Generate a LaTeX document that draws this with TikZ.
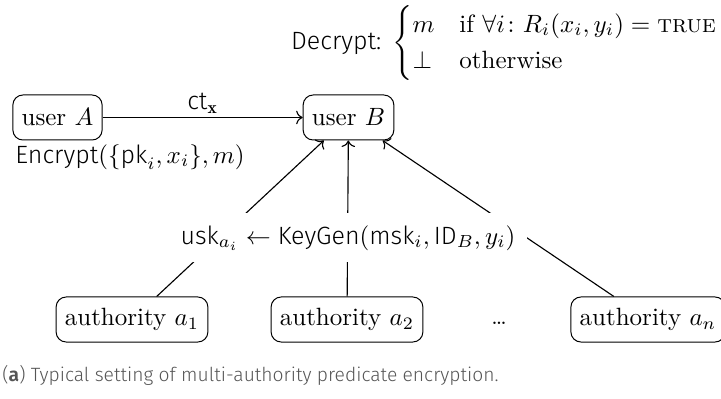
\documentclass[tikz,border=0pt]{standalone}
\usepackage{amsmath}
\usepackage{fontspec}
\setsansfont{Fira Sans}[UprightFont=* Light, BoldFont=* SemiBold]
\usetikzlibrary{arrows.meta}
\definecolor{captiongray}{RGB}{85,85,85}
\tikzset{
  party/.style={draw, rounded corners=4pt, minimum height=18pt, inner xsep=3.5pt, font=\normalsize},
  conn/.style={->, line width=0.45pt},
  plainlabel/.style={inner sep=0pt},
}
\begin{document}
\begin{tikzpicture}[x=0.4pt, y=-0.4pt]
  \useasboundingbox (0,0) rectangle (721,399);

  % users
  \node[party] (A) at (57.5,117.5) {user $A$};
  \node[party] (B) at (348.5,117.5) {user $B$};

  % authorities
  \node[party] (a1) at (132,319.5) {authority $a_1$};
  \node[party] (a2) at (347,319.5) {authority $a_2$};
  \node[party] (an) at (648,319.5) {authority $a_n$};
  \node[plainlabel, font=\small] (dots) at (499,323) {\textellipsis};

  % ciphertext from A to B
  \draw[conn] (A) -- node[above=1.5pt, inner sep=0pt] (ct) {$\textsf{ct}_{\mathbf{x}}$} (B);
  \node[plainlabel] (enc) at (130,157) {\textsf{Encrypt}$(\{\textsf{pk}_i, x_i\}, m)$};

  % keys from the authorities to B
  \draw[conn] (a1) -- (B);
  \draw[conn] (a2) -- (B);
  \draw[conn] (an) -- (B);
  \node[fill=white, inner sep=4.8pt] (keygen) at (348,238)
    {$\textsf{usk}_{a_i} \leftarrow \textsf{KeyGen}(\textsf{msk}_i, \textsf{ID}_B, y_i)$};

  % decryption rule
  \node[plainlabel, anchor=north] (dec) at (505,5)
    {\textsf{Decrypt:} $\begin{cases} m & \text{if } \forall i\colon R_i(x_i,y_i) = \textsc{true}\\ \bot & \text{otherwise}\end{cases}$};

  % caption
  \node[plainlabel, anchor=west, text=captiongray, font=\sffamily\fontsize{7.7}{9}\selectfont] (cap) at (2,375)
    {(\textbf{a}) Typical setting of multi-authority predicate encryption.};
\end{tikzpicture}
\end{document}
